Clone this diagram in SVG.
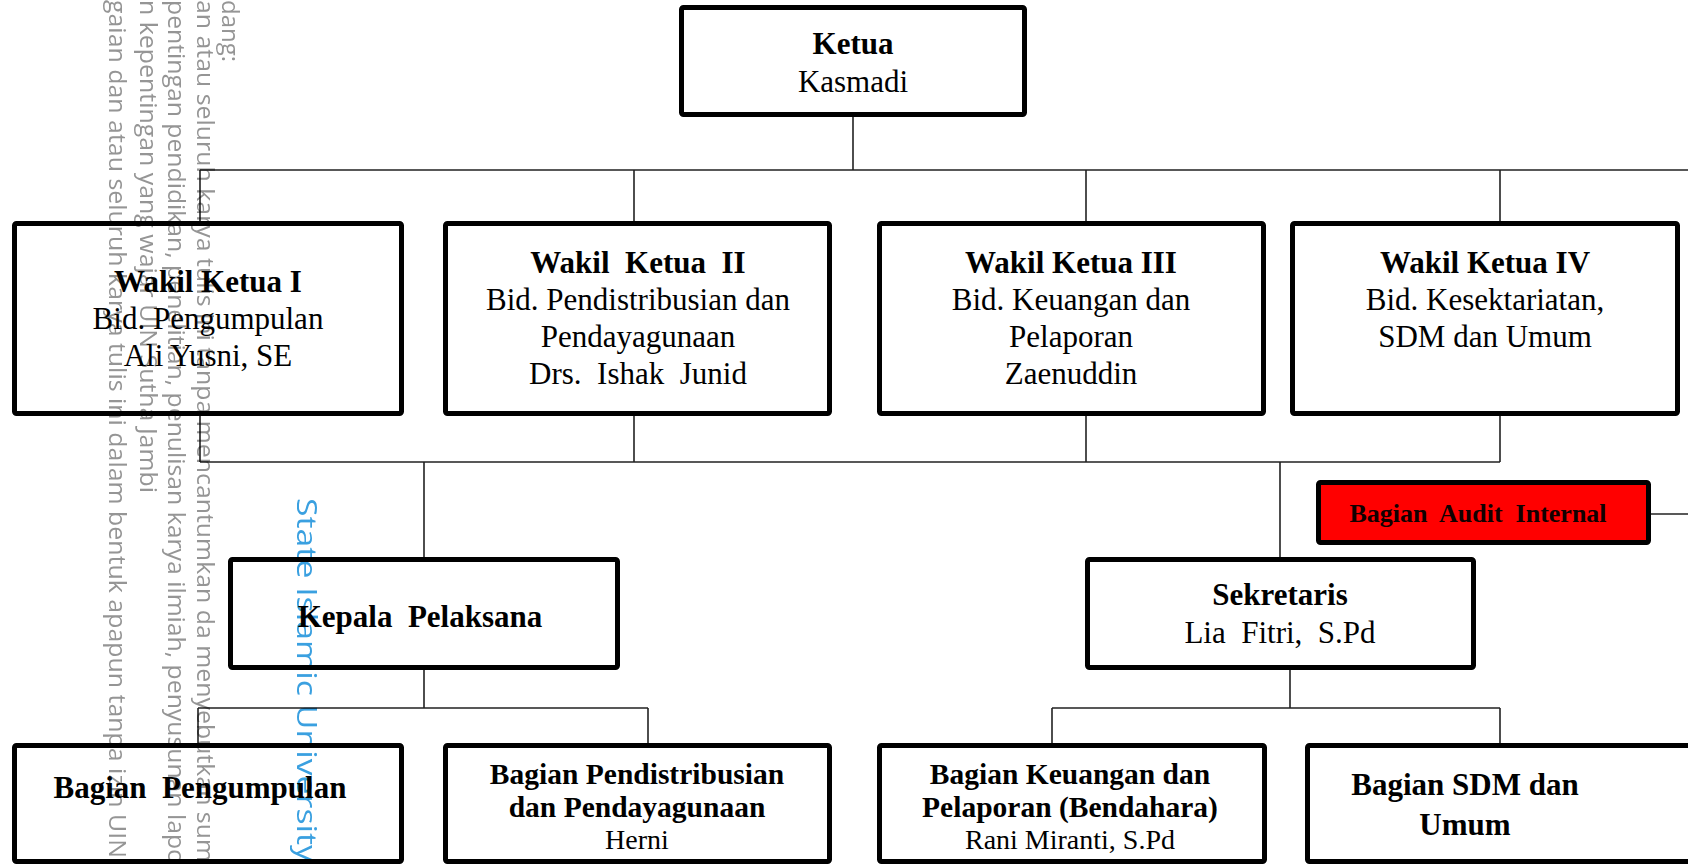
<svg xmlns="http://www.w3.org/2000/svg" width="1688" height="864" viewBox="0 0 1688 864">
<style>
.box{fill:#fff;stroke:#000;stroke-width:5;stroke-linejoin:round}
.red{fill:#ff0000;stroke:#000;stroke-width:5;stroke-linejoin:round}
.c{fill:none;stroke:#222;stroke-width:1.6}
.t{font-family:"Liberation Serif","Times New Roman",serif;font-size:31px;fill:#000;text-anchor:middle}
.b{font-weight:bold}
.s{font-size:29.5px}
.r{font-size:28px}
.a{font-size:26px;fill:#110000}
.wm{font-family:"Open Sans","DejaVu Sans",sans-serif;font-size:24px;fill:#959595}
.wb{font-family:"Open Sans","DejaVu Sans",sans-serif;font-size:27px;fill:#3aa0e0}
</style>
<rect width="1688" height="864" fill="#fff"/>
<g id="connectors">
<path class="c" d="M853 117V170M200 170H1688M634 170V221M1086 170V221M1500 170V221M200 170V462"/>
<path class="c" d="M634 416V462M1086 416V462M1500 416V462M200 462H1500M424 462V557M1280 462V557"/>
<path class="c" d="M424 670V708M198 708H648M198 708V743M648 708V743"/>
<path class="c" d="M1290 670V708M1052 708H1500M1052 708V743M1500 708V743"/>
<path class="c" d="M1651 514H1688"/>
</g>
<g id="ketua">
<rect class="box" x="681.5" y="7.5" width="343" height="107" rx="2"/>
<text class="t b" x="853" y="54">Ketua</text>
<text class="t" x="853" y="92">Kasmadi</text>
</g>
<g id="wakil1">
<rect class="box" x="14.5" y="223.5" width="387" height="190" rx="2"/>
<text class="t b" x="208" y="292">Wakil Ketua I</text>
<text class="t" x="208" y="329">Bid. Pengumpulan</text>
<text class="t" x="208" y="366">Ali Yusni, SE</text>
</g>
<g id="wakil2">
<rect class="box" x="445.5" y="223.5" width="384" height="190" rx="2"/>
<text class="t b" x="638" y="273" xml:space="preserve">Wakil  Ketua  II</text>
<text class="t" x="638" y="310">Bid. Pendistribusian dan</text>
<text class="t" x="638" y="347">Pendayagunaan</text>
<text class="t" x="638" y="384" xml:space="preserve">Drs.  Ishak  Junid</text>
</g>
<g id="wakil3">
<rect class="box" x="879.5" y="223.5" width="384" height="190" rx="2"/>
<text class="t b" x="1071" y="273">Wakil Ketua III</text>
<text class="t" x="1071" y="310">Bid. Keuangan dan</text>
<text class="t" x="1071" y="347">Pelaporan</text>
<text class="t" x="1071" y="384">Zaenuddin</text>
</g>
<g id="wakil4">
<rect class="box" x="1292.5" y="223.5" width="385" height="190" rx="2"/>
<text class="t b" x="1485" y="273">Wakil Ketua IV</text>
<text class="t" x="1485" y="310">Bid. Kesektariatan,</text>
<text class="t" x="1485" y="347">SDM dan Umum</text>
</g>
<g id="audit">
<rect class="red" x="1318.5" y="482.5" width="330" height="60" rx="2"/>
<text class="t b a" x="1478" y="522" xml:space="preserve">Bagian  Audit  Internal</text>
</g>
<g id="kepala">
<rect class="box" x="230.5" y="559.5" width="387" height="108" rx="2"/>
<text class="t b" x="420" y="627" xml:space="preserve">Kepala  Pelaksana</text>
</g>
<g id="sekretaris">
<rect class="box" x="1087.5" y="559.5" width="386" height="108" rx="2"/>
<text class="t b" x="1280" y="605">Sekretaris</text>
<text class="t" x="1280" y="643" xml:space="preserve">Lia  Fitri,  S.Pd</text>
</g>
<g id="bag-pengumpulan">
<rect class="box" x="14.5" y="745.5" width="387" height="116" rx="2"/>
<text class="t b" x="200" y="798" xml:space="preserve">Bagian  Pengumpulan</text>
</g>
<g id="bag-pendistribusian">
<rect class="box" x="445.5" y="745.5" width="384" height="116" rx="2"/>
<text class="t b s" x="637" y="784">Bagian Pendistribusian</text>
<text class="t b s" x="637" y="817">dan Pendayagunaan</text>
<text class="t r" x="637" y="849">Herni</text>
</g>
<g id="bag-keuangan">
<rect class="box" x="879.5" y="745.5" width="385" height="116" rx="2"/>
<text class="t b s" x="1070" y="784">Bagian Keuangan dan</text>
<text class="t b s" x="1070" y="817">Pelaporan (Bendahara)</text>
<text class="t r" x="1070" y="849">Rani Miranti, S.Pd</text>
</g>
<g id="bag-sdm">
<rect class="box" x="1307.5" y="745.5" width="400" height="116" rx="2"/>
<text class="t b" x="1465" y="795">Bagian SDM dan</text>
<text class="t b" x="1465" y="835">Umum</text>
</g>
<g id="watermark" style="mix-blend-mode:multiply">
<text class="wm" transform="translate(222 0) rotate(90)" textLength="62" lengthAdjust="spacingAndGlyphs">dang:</text>
<text class="wm" transform="translate(197 0) rotate(90)" textLength="862" lengthAdjust="spacingAndGlyphs">an atau seluruh karya tulis ini tanpa mencantumkan da menyebutkan sum</text>
<text class="wm" transform="translate(168 0) rotate(90)" textLength="864" lengthAdjust="spacingAndGlyphs">pentingan pendidikan, penelitian, penulisan karya ilmiah, penyusunan lapo</text>
<text class="wm" transform="translate(140 0) rotate(90)" textLength="493" lengthAdjust="spacingAndGlyphs">n kepentingan yang wajar UIN Sutha Jambi</text>
<text class="wm" transform="translate(109 0) rotate(90)" textLength="858" lengthAdjust="spacingAndGlyphs">gaian dan atau seluruh karya tulis ini dalam bentuk apapun tanpa izin UIN</text>
<text class="wb" transform="translate(297 498) rotate(90)" textLength="364" lengthAdjust="spacingAndGlyphs">State Islamic University</text>
</g>
</svg>
